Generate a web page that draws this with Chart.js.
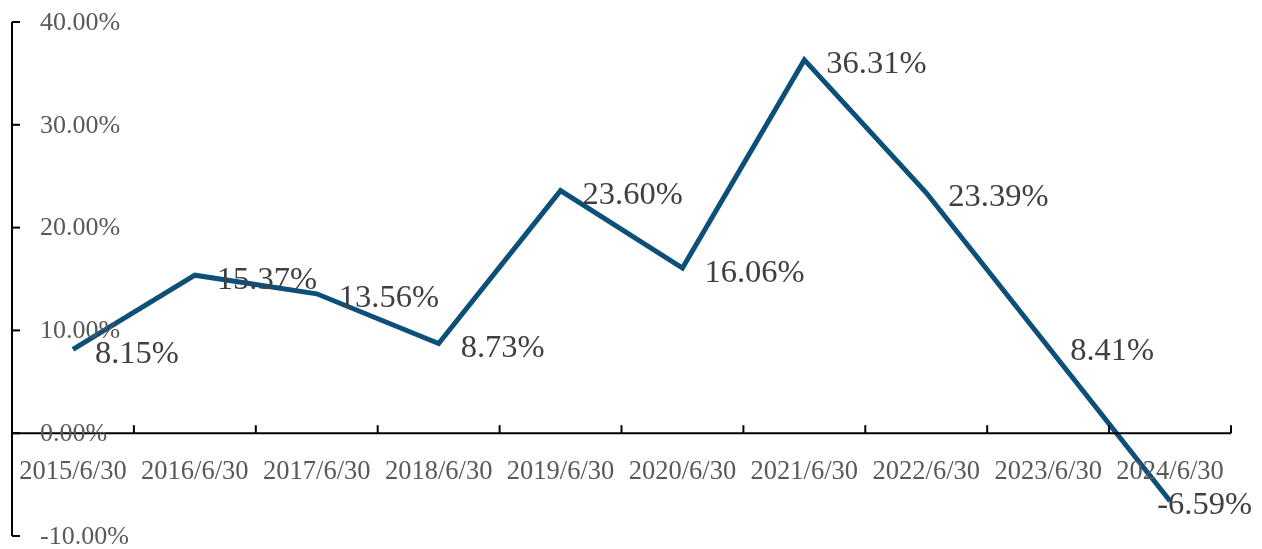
<!DOCTYPE html>
<html><head><meta charset="utf-8">
<script src="https://cdn.jsdelivr.net/npm/chart.js@4"></script>
<style>html,body{margin:0;padding:0;background:#fff;}#wrap{width:1262px;height:549px;}</style>
</head><body><div id="wrap"><canvas id="c" width="1262" height="549"></canvas></div>
<script>
const categories = ["2015/6/30","2016/6/30","2017/6/30","2018/6/30","2019/6/30","2020/6/30","2021/6/30","2022/6/30","2023/6/30","2024/6/30"];
const values = [8.15, 15.37, 13.56, 8.73, 23.60, 16.06, 36.31, 23.39, 8.41, -6.59];
const yTicks = [-10, 0, 10, 20, 30, 40];
const FONT = '"Liberation Serif", "DejaVu Serif", serif';

const axesPlugin = {
  id: 'axesPlugin',
  afterDatasetsDraw(chart) {
    const ctx = chart.ctx, xs = chart.scales.x, ys = chart.scales.y, a = chart.chartArea;
    ctx.save();
    ctx.strokeStyle = '#000'; ctx.lineWidth = 2;
    const y0 = ys.getPixelForValue(0);
    ctx.beginPath(); ctx.moveTo(a.left, ys.getPixelForValue(40)); ctx.lineTo(a.left, ys.getPixelForValue(-10)); ctx.stroke();
    yTicks.forEach(v => { const y = ys.getPixelForValue(v); ctx.beginPath(); ctx.moveTo(a.left, y); ctx.lineTo(a.left + 8, y); ctx.stroke(); });
    ctx.beginPath(); ctx.moveTo(a.left, y0); ctx.lineTo(a.right, y0); ctx.stroke();
    const step = xs.getPixelForValue(1) - xs.getPixelForValue(0);
    for (let i = 0; i <= categories.length; i++) {
      const x = xs.getPixelForValue(0) - step / 2 + i * step;
      ctx.beginPath(); ctx.moveTo(x, y0); ctx.lineTo(x, y0 - 8); ctx.stroke();
    }
    ctx.fillStyle = '#595959'; ctx.font = '26px ' + FONT; ctx.textAlign = 'left'; ctx.textBaseline = 'middle';
    yTicks.forEach(v => { ctx.fillText(v.toFixed(2) + '%', a.left + 28, ys.getPixelForValue(v) + 1); });
    ctx.font = '26.5px ' + FONT;
    ctx.textAlign = 'center';
    categories.forEach((c, i) => ctx.fillText(c, xs.getPixelForValue(i), y0 + 39));
    ctx.fillStyle = '#404040'; ctx.font = '32.5px ' + FONT; ctx.textAlign = 'left';
    const meta = chart.getDatasetMeta(0);
    meta.data.forEach((pt, i) => {
      const txt = values[i].toFixed(2) + '%';
      const w = ctx.measureText(txt).width;
      let x = pt.x + 22;
      if (x + w > chart.width - 10) x = chart.width - 10 - w;
      ctx.fillText(txt, x, pt.y + 5);
    });
    ctx.restore();
  }
};

new Chart(document.getElementById('c'), {
  type: 'line',
  data: { labels: categories, datasets: [{ data: values, borderColor: '#0c5079', borderWidth: 5, pointRadius: 0, tension: 0, fill: false, borderJoinStyle: 'miter' }] },
  options: {
    responsive: false, animation: false, devicePixelRatio: 1,
    layout: { padding: { left: 12, top: 22, right: 31, bottom: 13 } },
    plugins: { legend: { display: false }, tooltip: { enabled: false } },
    scales: {
      x: { display: false, offset: true },
      y: { display: false, min: -10, max: 40 }
    }
  },
  plugins: [axesPlugin]
});
</script></body></html>
